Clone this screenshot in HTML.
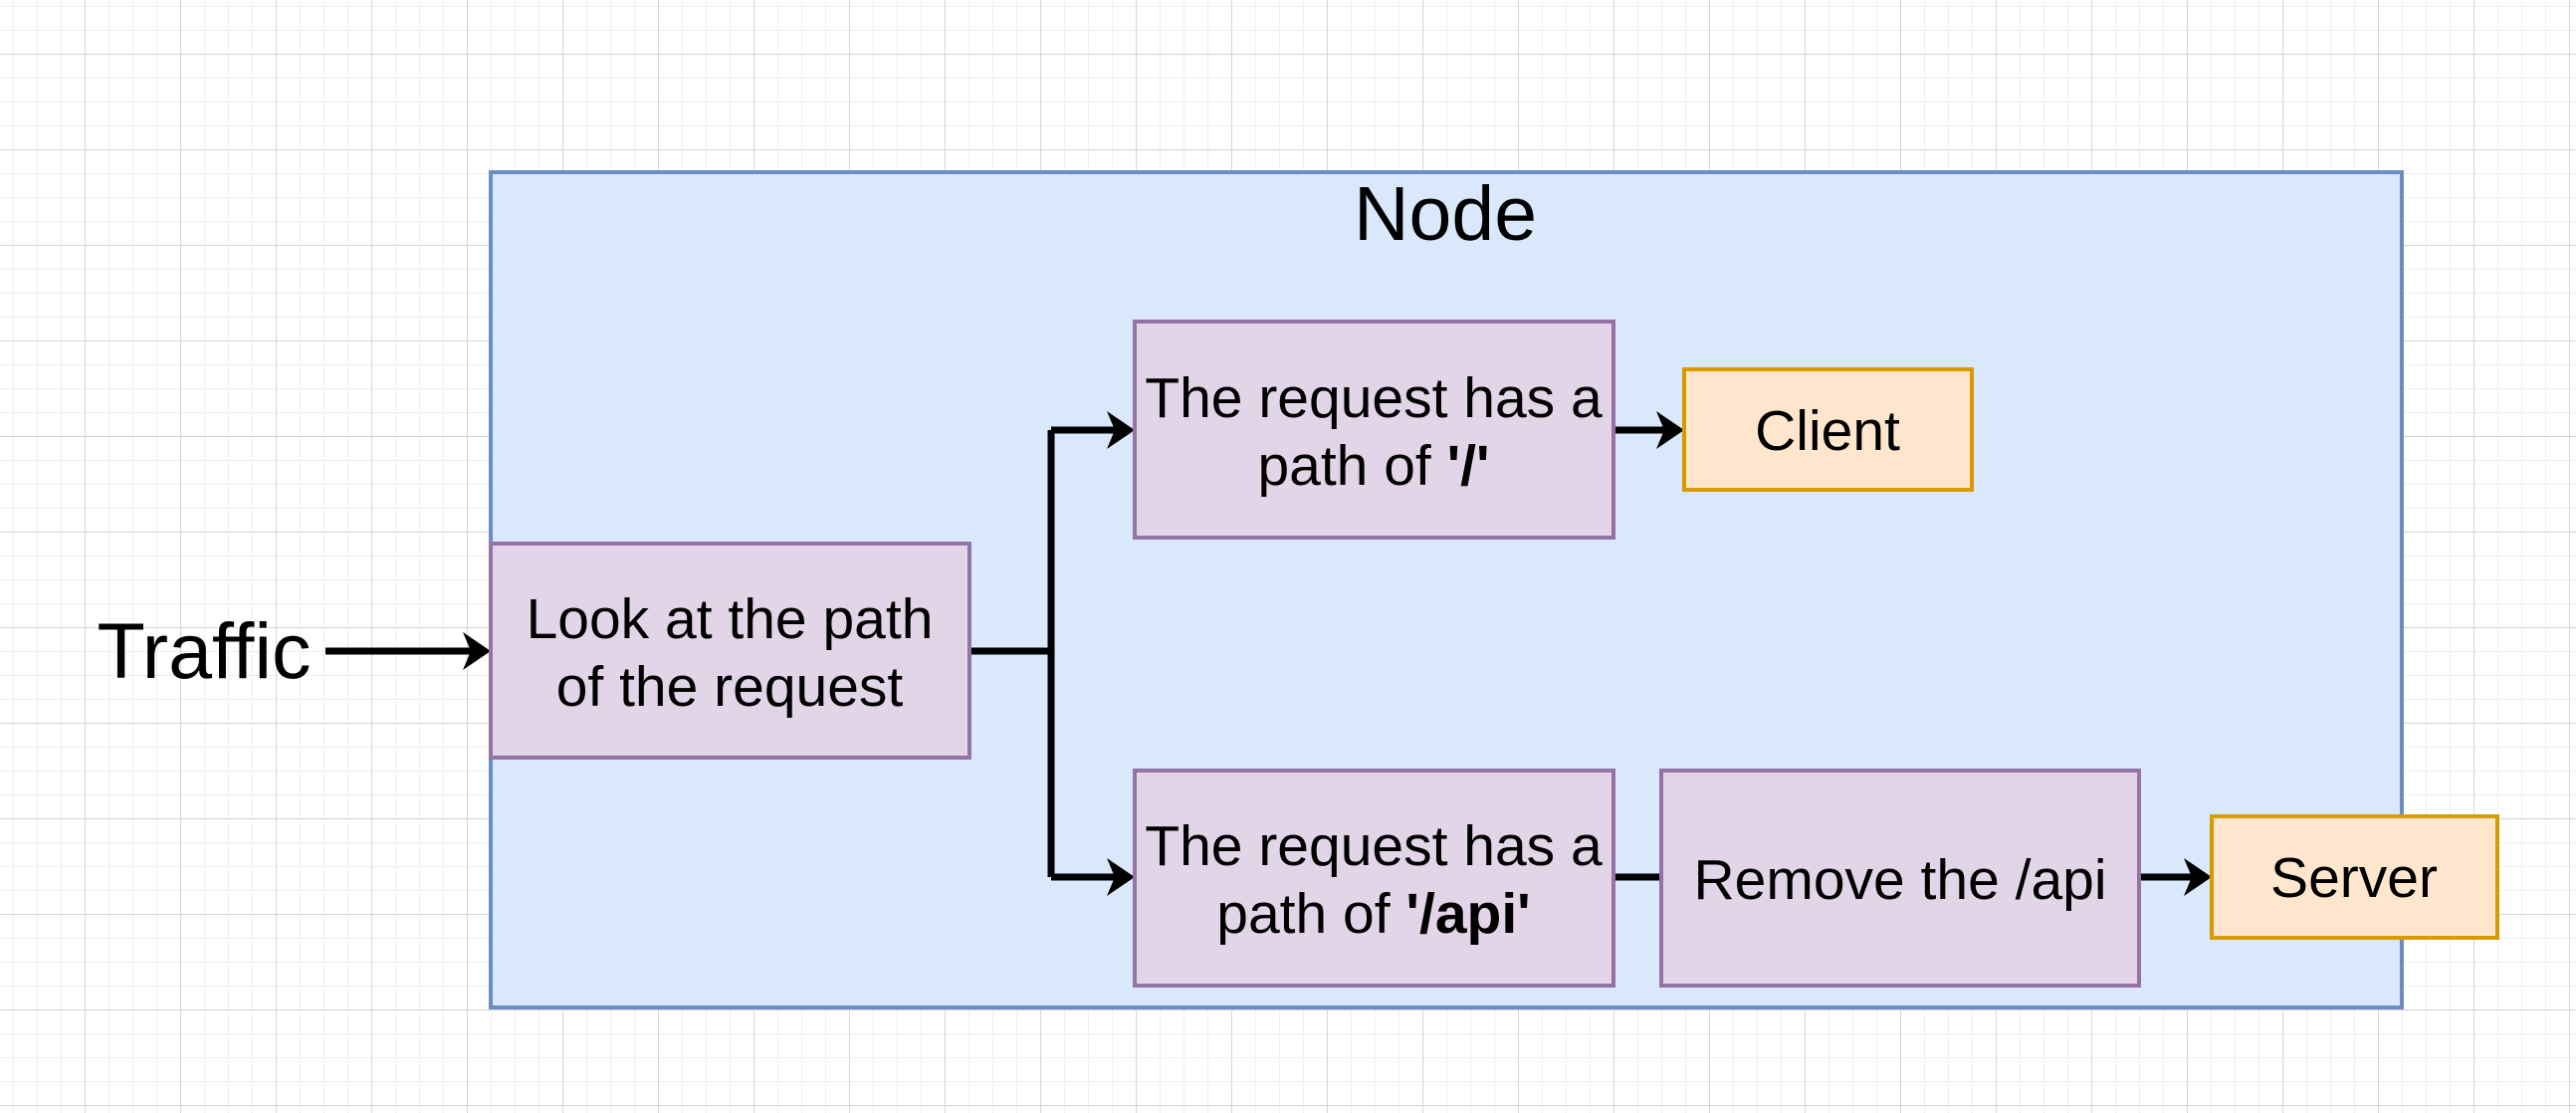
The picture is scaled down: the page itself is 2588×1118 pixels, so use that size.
<!DOCTYPE html>
<html><head><meta charset="utf-8"><style>
html,body{margin:0;padding:0;background:#fff;}
svg{display:block;}
text{font-family:"Liberation Sans",Arial,sans-serif;fill:#000;}
</style></head><body>
<svg width="2588" height="1118" viewBox="0 0 2588 1118" xmlns="http://www.w3.org/2000/svg">
<defs>
<pattern id="minor" width="24" height="24" patternUnits="userSpaceOnUse" x="13" y="6">
<path d="M0 0H24M0 0V24" stroke="#efefef" stroke-width="2" fill="none"/>
</pattern>
<pattern id="major" width="96" height="96" patternUnits="userSpaceOnUse" x="85" y="54">
<path d="M0 0H96M0 0V96" stroke="#d4d4d4" stroke-width="2" fill="none"/>
</pattern>
</defs>
<rect width="2588" height="1118" fill="url(#minor)"/>
<rect width="2588" height="1118" fill="url(#major)"/>

<rect x="493" y="173" width="1920" height="839" fill="#dae8fc" stroke="#6c8ebf" stroke-width="4"/>
<text x="1452" y="241" font-size="77" text-anchor="middle">Node</text>

<text x="205" y="681" font-size="79" text-anchor="middle">Traffic</text>

<g fill="none" stroke="#000" stroke-width="7">
<path d="M327 654H474"/>
<path d="M974 654H1056M1056 432V881M1056 432H1120M1056 881H1120"/>
<path d="M1621 432H1672"/>
<path d="M1621 881H1669"/>
<path d="M2149 881H2202"/>
</g>
<g fill="#000">
<path d="M493 654L465 635L473 654L465 673Z"/>
<path d="M1140 432L1112 413L1120 432L1112 451Z"/>
<path d="M1140 881L1112 862L1120 881L1112 900Z"/>
<path d="M1692 432L1664 413L1672 432L1664 451Z"/>
<path d="M2222 881L2194 862L2202 881L2194 900Z"/>
</g>

<g fill="#e1d5e7" stroke="#9673a6" stroke-width="4">
<rect x="493" y="546" width="481" height="215"/>
<rect x="1140" y="323" width="481" height="217"/>
<rect x="1140" y="774" width="481" height="216"/>
<rect x="1669" y="774" width="480" height="216"/>
</g>
<g fill="#ffe6cc" stroke="#d79b00" stroke-width="4">
<rect x="1692" y="371" width="289" height="121"/>
<rect x="2222" y="820" width="287" height="122"/>
</g>

<g font-size="57" text-anchor="middle">
<text x="733" y="641">Look at the path</text>
<text x="733" y="709">of the request</text>
<text x="1380" y="419">The request has a</text>
<text x="1380" y="487">path of <tspan font-weight="bold">'/'</tspan></text>
<text x="1380" y="869">The request has a</text>
<text x="1380" y="937">path of <tspan font-weight="bold">'/api'</tspan></text>
<text x="1909" y="903">Remove the /api</text>
<text x="1836" y="452">Client</text>
<text x="2365" y="901">Server</text>
</g>
</svg>
</body></html>
